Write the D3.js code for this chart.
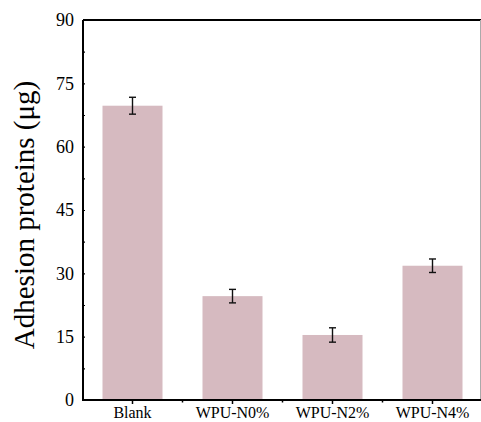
<!DOCTYPE html>
<html>
<head>
<meta charset="utf-8">
<script src="https://cdn.jsdelivr.net/npm/d3@7"></script>
<style>
  html, body { margin: 0; padding: 0; background: #fff; }
  svg { display: block; }
</style>
</head>
<body>
<svg id="chart" width="481" height="422"></svg>
<script>
const categories = ["Blank", "WPU-N0%", "WPU-N2%", "WPU-N4%"];
const values = [69.7, 24.6, 15.4, 31.8];
const errors = [2.0, 1.6, 1.7, 1.6];
const yTicks = [0, 15, 30, 45, 60, 75, 90];
const yMinorTicks = [7.5, 22.5, 37.5, 52.5, 67.5, 82.5];
const yLabel = "Adhesion proteins (μg)";

(function () {
const svg = d3.select("#chart");
const mLeft = 83, mRight = 482.5, mTop = 20, mBottom = 400;
const font = "'Liberation Serif', 'Times New Roman', serif";

const x = d3.scaleBand().domain(categories).range([mLeft - 0.5, mRight])
  .paddingInner(0.4).paddingOuter(0.2);
const y = d3.scaleLinear().domain([0, 90]).range([mBottom, mTop]);

// bars
svg.append("g").selectAll("rect").data(categories).join("rect")
  .attr("x", d => x(d))
  .attr("width", x.bandwidth())
  .attr("y", (d, i) => y(values[i]))
  .attr("height", (d, i) => y(0) - y(values[i]))
  .attr("fill", "#d6bac0");

// error bars
const eb = svg.append("g").attr("stroke", "#111").attr("stroke-width", 1.4);
categories.forEach((c, i) => {
  const cx = x(c) + x.bandwidth() / 2;
  const y1 = y(values[i] + errors[i]), y2 = y(values[i] - errors[i]);
  eb.append("line").attr("x1", cx).attr("x2", cx).attr("y1", y1).attr("y2", y2);
  eb.append("line").attr("x1", cx - 3.5).attr("x2", cx + 3.5).attr("y1", y1).attr("y2", y1);
  eb.append("line").attr("x1", cx - 3.5).attr("x2", cx + 3.5).attr("y1", y2).attr("y2", y2);
});

// frame: top and right
svg.append("line").attr("x1", mLeft).attr("x2", 481).attr("y1", mTop).attr("y2", mTop)
  .attr("stroke", "#000").attr("stroke-width", 2);
svg.append("line").attr("x1", 480.5).attr("x2", 480.5).attr("y1", mTop).attr("y2", mBottom)
  .attr("stroke", "#aaa").attr("stroke-width", 1);

// y axis
const yAxis = svg.append("g").attr("transform", `translate(${mLeft},0)`)
  .call(d3.axisLeft(y).tickValues(yTicks).tickSize(-2).tickPadding(9).tickFormat(d3.format("d")));
yAxis.select(".domain").attr("stroke-width", 2).attr("d", `M0,${mTop}V${mBottom}`);
yAxis.selectAll(".tick line").attr("stroke-width", 1.2);
yAxis.selectAll("text").attr("font-family", font).attr("font-size", 18).attr("fill", "#000");
svg.append("g").attr("transform", `translate(${mLeft},0)`)
  .call(d3.axisLeft(y).tickValues(yMinorTicks).tickSize(-2).tickFormat(""))
  .call(g => g.select(".domain").remove())
  .selectAll(".tick line").attr("stroke-width", 1.2);

// x axis
const xAxis = svg.append("g").attr("transform", `translate(0,${mBottom})`)
  .call(d3.axisBottom(x).tickSize(4).tickPadding(3));
xAxis.select(".domain").attr("stroke-width", 2).attr("d", `M${mLeft - 1},0H481`);
xAxis.selectAll(".tick line").attr("stroke-width", 1.5);
xAxis.selectAll("text").attr("font-family", font).attr("font-size", 16).attr("fill", "#000");
// minor x ticks between bars
const mids = categories.slice(1).map(c => x(c) - x.step() * x.paddingInner() / 2);
svg.append("g").selectAll("line").data(mids).join("line")
  .attr("x1", d => d).attr("x2", d => d)
  .attr("y1", mBottom).attr("y2", mBottom + 2.5)
  .attr("stroke", "#000").attr("stroke-width", 1.5);

// y label
svg.append("text")
  .attr("transform", `translate(34,${(mTop + mBottom) / 2 + 5}) rotate(-90)`)
  .attr("text-anchor", "middle")
  .attr("font-family", font).attr("font-size", 29).attr("fill", "#000")
  .text(yLabel);
})();
</script>
</body>
</html>
